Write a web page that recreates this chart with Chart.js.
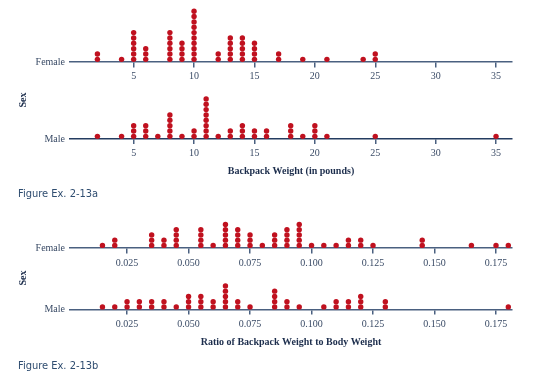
<!DOCTYPE html>
<html>
<head>
<meta charset="utf-8">
<script src="https://cdn.jsdelivr.net/npm/chart.js@4.4.1/dist/chart.umd.min.js"></script>
<style>
  html, body { margin: 0; padding: 0; background: #fff; }
  body { width: 540px; height: 380px; position: relative; overflow: hidden; }
  .panel { position: absolute; left: 0; width: 540px; }
  #panelA { top: 0; height: 181px; }
  #panelB { top: 200px; height: 152px; }
  .caption {
    position: absolute; left: 18px; line-height: 1;
    font-family: "Liberation Sans Narrow", "DejaVu Sans Condensed", sans-serif;
    font-size: 11px; color: #2f4d70;
  }
  .ylab {
    position: absolute; width: 30px; line-height: 12px; text-align: center;
    font-family: "Liberation Serif", "DejaVu Serif", serif; font-size: 10px; font-weight: bold;
    color: #1c2d4c; transform: rotate(-90deg);
  }
</style>
</head>
<body>
<div class="panel" id="panelA"><canvas id="chartA"></canvas></div>
<div class="ylab" style="left:8px; top:94px">Sex</div>
<div class="caption" style="top:188px">Figure Ex. 2-13a</div>
<div class="panel" id="panelB"><canvas id="chartB"></canvas></div>
<div class="ylab" style="left:8px; top:272px">Sex</div>
<div class="caption" style="top:360px">Figure Ex. 2-13b</div>
<script>
// rows
const rowLabels = ['Female', 'Male'];

// Figure a: backpack weight (pounds)
const weightTicks = [5, 10, 15, 20, 25, 30, 35];
const weightFemaleValues = [2, 4, 5, 6, 8, 9, 10, 12, 13, 14, 15, 17, 19, 21, 24, 25];
const weightFemaleCounts = [2, 1, 6, 3, 6, 4, 10, 2, 5, 5, 4, 2, 1, 1, 1, 2];
const weightMaleValues = [2, 4, 5, 6, 7, 8, 9, 10, 11, 12, 13, 14, 15, 16, 18, 19, 20, 21, 25, 35];
const weightMaleCounts = [1, 1, 3, 3, 1, 5, 1, 2, 8, 1, 2, 3, 2, 2, 3, 1, 3, 1, 1, 1];

// Figure b: ratio of backpack weight to body weight
const ratioTicks = [0.025, 0.05, 0.075, 0.1, 0.125, 0.15, 0.175];
const ratioFemaleValues = [0.015, 0.02, 0.035, 0.04, 0.045, 0.055, 0.06, 0.065, 0.07, 0.075, 0.08, 0.085,
  0.09, 0.095, 0.1, 0.105, 0.11, 0.115, 0.12, 0.125, 0.145, 0.165, 0.175, 0.18];
const ratioFemaleCounts = [1, 2, 3, 2, 4, 4, 1, 5, 4, 3, 1, 3, 4, 5, 1, 1, 1, 2, 2, 1, 2, 1, 1, 1];
const ratioMaleValues = [0.015, 0.02, 0.025, 0.03, 0.035, 0.04, 0.045, 0.05, 0.055, 0.06, 0.065, 0.07,
  0.075, 0.085, 0.09, 0.095, 0.105, 0.11, 0.115, 0.12, 0.13, 0.18];
const ratioMaleCounts = [1, 1, 2, 2, 2, 2, 1, 3, 3, 2, 5, 2, 1, 4, 2, 1, 1, 2, 2, 3, 2, 1];

const dotRed = '#c0111f';
const axisCol = '#4a6080';
const textCol = '#3a4b66';
const titleCol = '#1c2d4c';
const serif = '"Liberation Serif", "DejaVu Serif", serif';

// one dot per observation, stacked upward from the row's axis (y unit = one dot)
function stackDots(values, counts, base) {
  const pts = [];
  values.forEach((v, i) => {
    for (let k = 0; k < counts[i]; k++) pts.push({ x: v, y: base + 0.5 + k });
  });
  return pts;
}

function xAxis(cfg, position, withTitle, lineCol) {
  return {
    type: 'linear',
    axis: 'x',
    position: position,
    min: cfg.min,
    max: cfg.max,
    bounds: 'data',
    afterBuildTicks: s => { s.ticks = cfg.ticks.map(v => ({ value: v })); },
    afterFit: s => { if (position === 'bottom') s.height = cfg.bottomHeight; },
    grid: { display: true, drawOnChartArea: false, drawTicks: true, tickLength: 5,
            color: axisCol, lineWidth: 1.5 },
    border: { display: true, color: lineCol, width: 1.5 },
    ticks: { padding: cfg.tickPad, color: textCol, font: { family: serif, size: 10 },
             maxRotation: 0, autoSkip: false, callback: cfg.fmt },
    title: { display: withTitle, text: cfg.title, color: titleCol,
             font: { family: serif, size: 10, weight: 'bold' }, padding: { top: 0, bottom: 4 } }
  };
}

function makeChart(id, cfg) {
  const F = cfg.femaleBase;
  new Chart(document.getElementById(id), {
    type: 'scatter',
    data: {
      datasets: [
        { data: stackDots(cfg.femaleValues, cfg.femaleCounts, F), xAxisID: 'xf', yAxisID: 'y',
          backgroundColor: dotRed, borderWidth: 0, pointRadius: 2.7, clip: false },
        { data: stackDots(cfg.maleValues, cfg.maleCounts, 0), xAxisID: 'x', yAxisID: 'y',
          backgroundColor: dotRed, borderWidth: 0, pointRadius: 2.7, clip: false }
      ]
    },
    options: {
      responsive: true,
      maintainAspectRatio: false,
      animation: false,
      events: [],
      layout: { padding: { top: cfg.padTop, right: 28, left: 0, bottom: 0 } },
      plugins: { legend: { display: false }, tooltip: { enabled: false } },
      scales: {
        x: xAxis(cfg, 'bottom', true, cfg.maleLine),
        xf: xAxis(cfg, { y: F }, false, axisCol),
        y: {
          type: 'linear',
          position: 'left',
          min: 0,
          max: cfg.yMax,
          bounds: 'data',
          afterBuildTicks: s => { s.ticks = [{ value: 0 }, { value: F }]; },
          afterFit: s => { s.width = 70; },
          grid: { display: false, drawTicks: false },
          border: { display: false },
          ticks: { padding: 5, color: textCol, font: { family: serif, size: 10 },
                   callback: v => (v === 0 ? rowLabels[1] : rowLabels[0]) }
        }
      }
    }
  });
}

makeChart('chartA', {
  femaleValues: weightFemaleValues, femaleCounts: weightFemaleCounts,
  maleValues: weightMaleValues, maleCounts: weightMaleCounts,
  ticks: weightTicks, fmt: v => String(v),
  min: -0.27, max: 36.32,
  femaleBase: 14.39, yMax: 23.74, padTop: 12, bottomHeight: 42, tickPad: 3,
  maleLine: '#243c60',
  title: 'Backpack Weight (in pounds)'
});

makeChart('chartB', {
  femaleValues: ratioFemaleValues, femaleCounts: ratioFemaleCounts,
  maleValues: ratioMaleValues, maleCounts: ratioMaleCounts,
  ticks: ratioTicks, fmt: v => v.toFixed(3),
  min: 0.0018, max: 0.1815,
  femaleBase: 11.71, yMax: 17.43, padTop: 18, bottomHeight: 42.5, tickPad: 4,
  maleLine: axisCol,
  title: 'Ratio of Backpack Weight to Body Weight'
});
</script>
</body>
</html>
